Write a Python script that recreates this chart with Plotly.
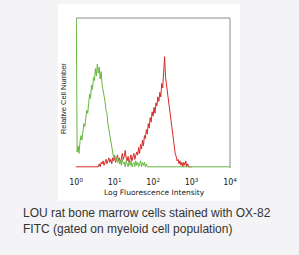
import numpy as np
import plotly.graph_objects as go

# bin positions in log10 units (step 0.025)
log_step = 0.025

# green: control histogram (fraction of full scale), bins 0.000 .. 4.000
green_counts = [
    1.20, 0.10, 0.14, 0.09, 0.17, 0.21, 0.18, 0.26, 0.29, 0.27,
    0.35, 0.38, 0.36, 0.45, 0.49, 0.46, 0.55, 0.52, 0.60, 0.58,
    0.66, 0.61, 0.69, 0.63, 0.67, 0.59, 0.64, 0.55, 0.52, 0.47,
    0.44, 0.38, 0.36, 0.29, 0.25, 0.19, 0.16, 0.11, 0.09, 0.06,
    0.08, 0.04, 0.06, 0.03, 0.05, 0.02, 0.04, 0.01, 0.05, 0.02,
    0.03, 0.00, 0.04, 0.02, 0.00, 0.03, 0.01, 0.04, 0.00, 0.02,
    0.03, 0.00, 0.04, 0.01, 0.03, 0.00, 0.02, 0.04, 0.00, 0.03,
    0.01, 0.03, 0.00, 0.02, 0.00,
] + [0.0] * 86

# red: OX-82 stained histogram, bins 0.000 .. 3.000
red_counts = [0.0] * 23 + [
    0.00, 0.02, 0.00, 0.03, 0.02, 0.04, 0.01, 0.03, 0.05, 0.02,
    0.04, 0.06, 0.03, 0.05, 0.02, 0.06, 0.04, 0.07, 0.03, 0.05,
    0.08, 0.04, 0.06, 0.03, 0.05, 0.09, 0.05, 0.07, 0.11, 0.06,
    0.04, 0.07, 0.03, 0.05, 0.08, 0.04, 0.06, 0.09, 0.05, 0.07,
    0.10, 0.08, 0.13, 0.09, 0.15, 0.12, 0.18, 0.14, 0.21, 0.19,
    0.25, 0.22, 0.29, 0.26, 0.33, 0.30, 0.37, 0.34, 0.40, 0.36,
    0.43, 0.41, 0.47, 0.44, 0.50, 0.47, 0.56, 0.53, 0.62, 0.74,
    0.60, 0.55, 0.51, 0.45, 0.39, 0.35, 0.28, 0.23, 0.18, 0.14,
    0.09, 0.07, 0.04, 0.05, 0.02, 0.04, 0.01, 0.03, 0.00, 0.03,
    0.01, 0.04, 0.00, 0.02, 0.00, 0.00, 0.00, 0.00,
]

tick_vals = [1, 10, 100, 1000, 10000]
tick_text = ["10<sup>0</sup>", "10<sup>1</sup>", "10<sup>2</sup>", "10<sup>3</sup>", "10<sup>4</sup>"]

green_x = 10 ** (np.arange(len(green_counts)) * log_step)
red_x = 10 ** (np.arange(len(red_counts)) * log_step)

fig = go.Figure()
fig.add_trace(go.Scatter(x=red_x, y=red_counts, mode="lines",
                         line=dict(color="#d42a2a", width=1), hoverinfo="skip"))
fig.add_trace(go.Scatter(x=green_x, y=green_counts, mode="lines",
                         line=dict(color="#66b840", width=1), hoverinfo="skip"))

# white panel
fig.add_shape(type="rect", xref="paper", yref="paper", x0=-0.117, x1=1.065, y0=-0.218, y1=1.093,
              fillcolor="white", line_width=0, layer="below")
# top and right frame
fig.add_shape(type="line", xref="paper", yref="paper", x0=0, x1=1, y0=1, y1=1,
              line=dict(color="#8a8a8a", width=1))
fig.add_shape(type="line", xref="paper", yref="paper", x0=1, x1=1, y0=0, y1=1,
              line=dict(color="#8a8a8a", width=1))

fig.add_annotation(text="Relative Cell Number", xref="paper", yref="paper", x=-0.084, y=0.46,
                   xanchor="center", yanchor="middle",
                   textangle=-90, showarrow=False, font=dict(family="Liberation Sans", size=7.5, color="#222"))
fig.add_annotation(text="Log Fluorescence Intensity", xref="paper", yref="paper", x=0.511, y=-0.16,
                   xanchor="center", yanchor="middle",
                   showarrow=False, font=dict(family="DejaVu Sans", size=7.5, color="#222"))
fig.add_annotation(text="LOU rat bone marrow cells stained with OX-82", xref="paper", yref="paper",
                   x=-0.359, y=-0.30, xanchor="left", yanchor="middle", showarrow=False,
                   font=dict(family="Liberation Sans", size=12, color="#333"))
fig.add_annotation(text="FITC (gated on myeloid cell population)", xref="paper", yref="paper",
                   x=-0.359, y=-0.407, xanchor="left", yanchor="middle", showarrow=False,
                   font=dict(family="Liberation Sans", size=12, color="#333"))

fig.update_layout(
    width=299, height=255,
    margin=dict(l=76, r=69, t=18, b=87),
    paper_bgcolor="#f4f4f7", plot_bgcolor="rgba(0,0,0,0)",
    showlegend=False,
    xaxis=dict(type="log", range=[-0.004, 4], tickvals=tick_vals, ticktext=tick_text,
               showgrid=False, zeroline=False, showline=False, ticks="",
               ticklabelstandoff=8,
               tickfont=dict(family="DejaVu Sans", size=8, color="#222")),
    yaxis=dict(range=[-0.008, 1], showgrid=False, zeroline=False, showline=False,
               showticklabels=False, ticks=""),
)

fig.write_html("out.html")
